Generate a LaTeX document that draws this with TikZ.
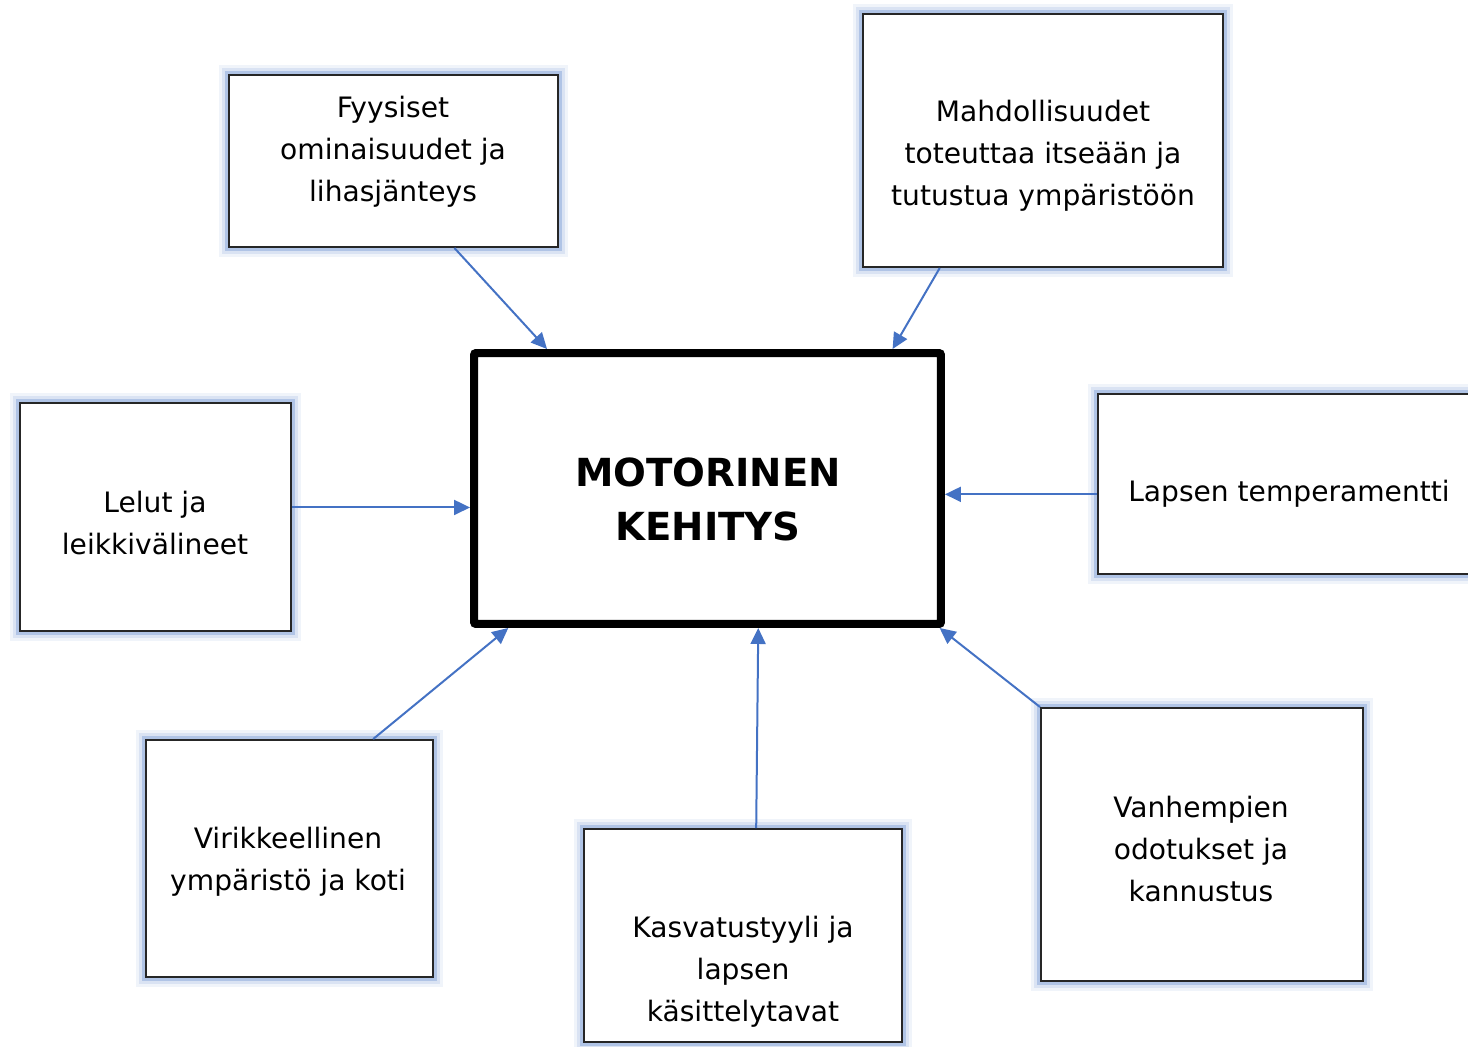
\documentclass[tikz,border=0pt]{standalone}
\usepackage{fontspec}
\setmainfont{DejaVu Sans}
\usetikzlibrary{arrows.meta}
\definecolor{linkblue}{HTML}{4472C4}
\tikzset{
  factorbox/.style= {
    rectangle,
    draw = black!85,
    line width = 0.04cm,
    fill = white,
    preaction = {draw = linkblue!8, line width = 0.42cm},
    preaction = {draw = linkblue!20, line width = 0.3cm},
    preaction = {draw = linkblue!42, line width = 0.18cm}
  },
  factortext/.style= {
    align = center,
    inner sep = 0pt,
    font = \fontsize{16pt}{23.9pt}\selectfont
  },
  corebox/.style= {
    rectangle,
    draw,
    line width = 0.16cm,
    rounded corners = 0.04cm,
    fill = white
  },
  coretext/.style= {
    align = center,
    inner sep = 0pt,
    font = \bfseries\fontsize{22pt}{30.7pt}\selectfont
  },
  influence/.style= {
    -{Triangle[length=0.32cm,width=0.3cm]},
    draw = linkblue,
    line width = 0.04cm
  }
}
\begin{document}
\begin{tikzpicture}[x=0.02cm,y=-0.02cm]
  \useasboundingbox (0,0) rectangle (1468,1046);
  \clip (0,0) rectangle (1468,1046);

  \node[corebox,minimum width=9.34cm,minimum height=5.42cm] (motor) at (707.5,488.5) {};
  \node[coretext] (motor-t) at (708,499) {MOTORINEN\\KEHITYS};

  \node[factorbox,minimum width=6.58cm,minimum height=3.44cm] (fyys) at (393.5,161) {};
  \node[factortext] (fyys-t) at (393,152) {Fyysiset\\ominaisuudet ja\\lihasjänteys};

  \node[factorbox,minimum width=7.2cm,minimum height=5.06cm] (mahd) at (1043,140.5) {};
  \node[factortext] (mahd-t) at (1043,156) {Mahdollisuudet\\toteuttaa itseään ja\\tutustua ympäristöön};

  \node[factorbox,minimum width=5.42cm,minimum height=4.56cm] (lelut) at (155.5,517) {};
  \node[factortext] (lelut-t) at (155,523) {Lelut ja\\leikkivälineet};

  \node[factorbox,minimum width=7.84cm,minimum height=3.6cm] (laps) at (1294,484) {};
  \node[factortext] (laps-t) at (1289,494) {Lapsen temperamentti};

  \node[factorbox,minimum width=5.74cm,minimum height=4.74cm] (virik) at (289.5,858.5) {};
  \node[factortext] (virik-t) at (288,862) {Virikkeellinen\\ympäristö ja koti};

  \node[factorbox,minimum width=6.36cm,minimum height=4.26cm] (kasv) at (743,935.5) {};
  \node[factortext] (kasv-t) at (743,972) {Kasvatustyyli ja\\lapsen\\käsittelytavat};

  \node[factorbox,minimum width=6.44cm,minimum height=5.46cm] (vanh) at (1202,844.5) {};
  \node[factortext] (vanh-t) at (1201,849) {Vanhempien\\odotukset ja\\kannustus};

  \draw[influence] (fyys.-55) -- (motor.139);
  \draw[influence] (mahd.231) -- (motor.37);
  \draw[influence] (lelut.4) -- (lelut.4 -| motor.west);
  \draw[influence] (laps.183) -- (laps.183 -| motor.east);
  \draw[influence] (virik.55) -- (motor.215.5);
  \draw[influence] (kasv.83) -- (motor.290);
  \draw[influence] (vanh.north west) -- (motor.-31);
\end{tikzpicture}
\end{document}
